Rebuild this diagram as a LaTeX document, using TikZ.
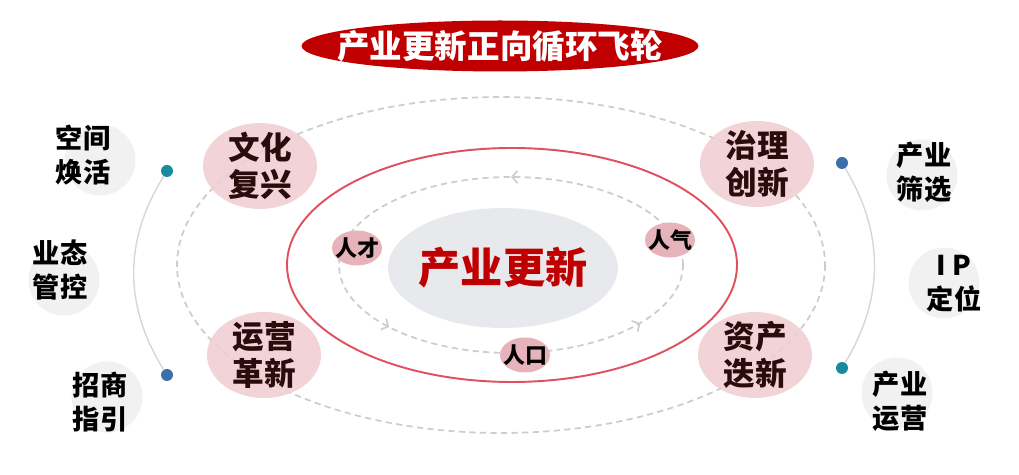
\documentclass[tikz,border=0pt]{standalone}
\usepackage{fontspec}
\newfontfamily\cjk{Noto Sans CJK SC}
\usetikzlibrary{shapes,arrows.meta,positioning,decorations.markings}

\definecolor{titlered}{HTML}{C00000}
\definecolor{orbitred}{HTML}{E0505F}
\definecolor{orbitgrey}{HTML}{CDCDCD}
\definecolor{pinkbig}{HTML}{F0CDD1}
\definecolor{pinksmall}{HTML}{E6B3BA}
\definecolor{coregrey}{HTML}{E8E9ED}
\definecolor{discgrey}{HTML}{F1F1F1}
\definecolor{arcgrey}{HTML}{D6D6D6}
\definecolor{dotteal}{HTML}{1A8B9E}
\definecolor{dotblue}{HTML}{3E6EA8}
\definecolor{darktext}{HTML}{2A0C0C}

\begin{document}
\begin{tikzpicture}[
    x=0.02cm, y=-0.02cm,
    orbit/.style={draw=orbitgrey, line width=1pt, dash pattern=on 3.5pt off 2.5pt},
    flow/.style={postaction={decorate}, decoration={markings,
        mark=at position 0.25 with {\arrow[orbitgrey]{Straight Barb[length=3pt,width=7pt]}},
        mark=at position 0.60 with {\arrow[orbitgrey]{Straight Barb[length=3pt,width=7pt]}},
        mark=at position 0.91 with {\arrow[orbitgrey]{Straight Barb[length=3pt,width=7pt]}}}},
    bigpink/.style={ellipse, fill=pinkbig, fill opacity=0.85, text opacity=1, minimum width=2.28cm, minimum height=1.72cm, inner xsep=-0.2cm, inner ysep=-0.3cm, align=center, text=darktext, font=\cjk\bfseries\fontsize{18}{21}\selectfont},
    smallpink/.style={ellipse, fill=pinksmall, minimum width=1cm, minimum height=0.7cm, inner xsep=-0.3cm, inner ysep=-0.15cm, font=\cjk\bfseries\fontsize{12.5}{14}\selectfont},
    disc/.style={circle, fill=discgrey, minimum size=1.42cm, inner sep=0pt},
    sidetext/.style={align=center, inner sep=0pt, font=\cjk\bfseries\fontsize{15.5}{19.5}\selectfont},
    dot/.style={circle, minimum size=0.24cm, inner sep=0pt},
    arcline/.style={draw=arcgrey, line width=0.8pt}
]
\useasboundingbox (0,0) rectangle (1019,475);

% Title (top)
\node[ellipse, fill=titlered, minimum width=7.94cm, minimum height=1.02cm, inner xsep=-0.7cm, inner ysep=-0.2cm, text=white, font=\cjk\bfseries\fontsize{18.5}{22}\selectfont] (title) at (500,46) {产业更新正向循环飞轮};

% Orbits
\draw[orbit] (501,265) ellipse [x radius=324, y radius=168];
\draw[draw=orbitred, line width=1.1pt] (512,265) ellipse [x radius=225, y radius=117];
\draw[orbit, flow] (683,265) arc[start angle=0, end angle=-360, x radius=172, y radius=88];

% Core
\node[ellipse, fill=coregrey, minimum width=4.6cm, minimum height=2.4cm, inner xsep=-0.3cm, inner ysep=-0.1cm, text=titlered, font=\cjk\bfseries\fontsize{24}{26}\selectfont] (core) at (503,268) {产业更新};

% Inner ring
\node[smallpink] (talent) at (357,248) {人才};
\node[smallpink] (buzz) at (670,240) {人气};
\node[smallpink] (people) at (525,355) {人口};

% Outer ring
\node[bigpink] (culture) at (260,166) {文化\\复兴};
\node[bigpink] (govern) at (757,164) {治理\\创新};
\node[bigpink] (operate) at (264,355) {运营\\革新};
\node[bigpink] (asset) at (755,355) {资产\\迭新};

% Left side
\node[dot, fill=dotteal] (ltop) at (167,171) {};
\node[dot, fill=dotblue] (lbot) at (167,375) {};
\draw[arcline] (ltop) to[bend right=32] (lbot);
\node[disc] (spacedisc) at (100,160) {};
\node[sidetext] (space) at (83,155) {空间\\焕活};
\node[disc] (formatdisc) at (64,280) {};
\node[sidetext] (format) at (60,270) {业态\\管控};
\node[disc] (investdisc) at (107,397) {};
\node[sidetext] (invest) at (100,402) {招商\\指引};

% Right side
\node[dot, fill=dotblue] (rtop) at (842,163) {};
\node[dot, fill=dotteal] (rbot) at (842,368) {};
\draw[arcline] (rtop) to[bend left=31] (rbot);
\node[disc] (selectdisc) at (922,175) {};
\node[sidetext] (select) at (924,172) {产业\\筛选};
\node[disc] (ipdisc) at (944,283) {};
\node[sidetext] (ip) at (954,284) {I P\\定位};
\node[disc] (indopdisc) at (897,393) {};
\node[sidetext] (indop) at (900,401) {产业\\运营};

\end{tikzpicture}
\end{document}
